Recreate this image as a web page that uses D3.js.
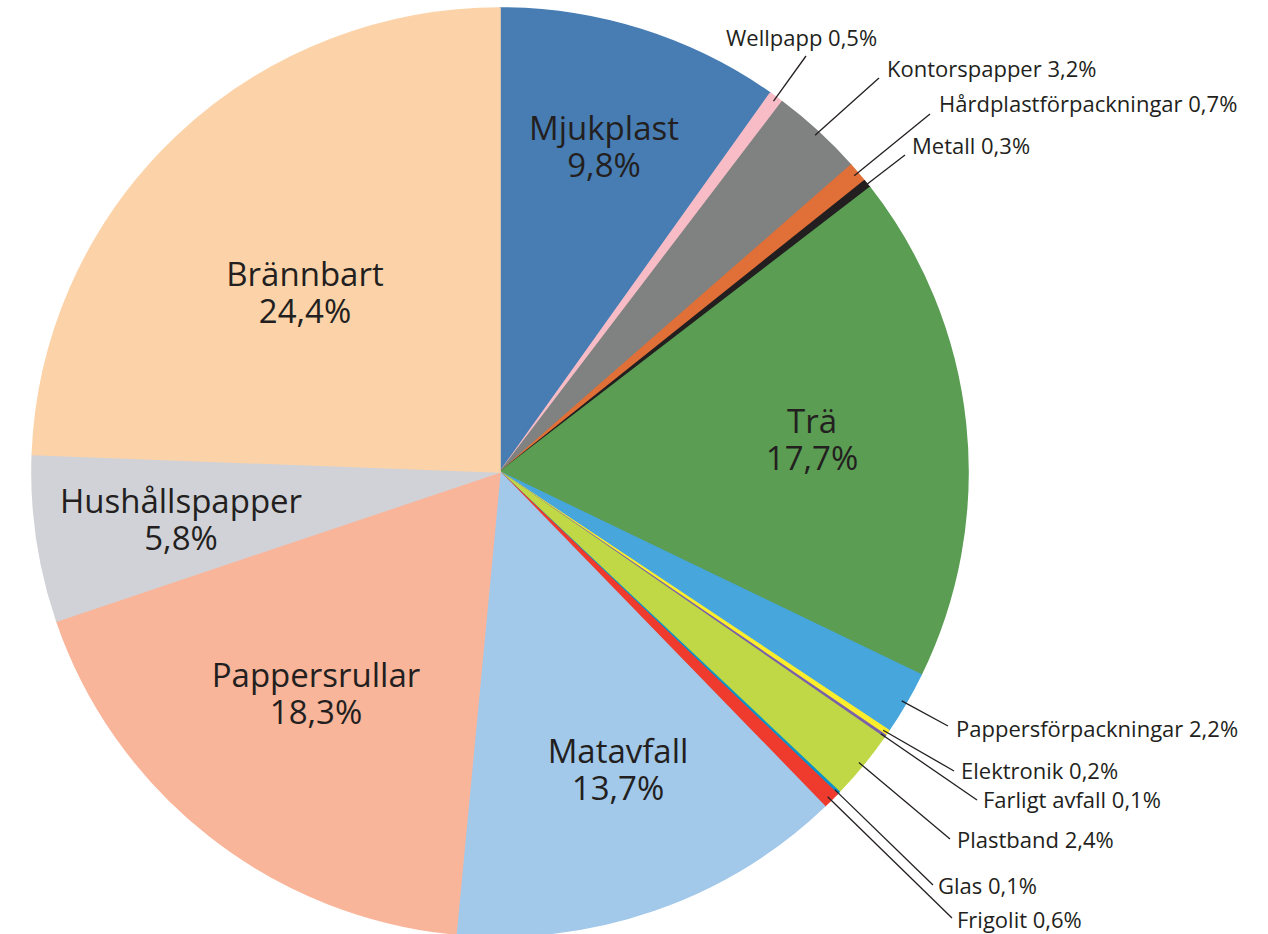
<!DOCTYPE html>
<html>
<head>
<meta charset="utf-8">
<script src="https://cdn.jsdelivr.net/npm/d3@7"></script>
<style>
    body { margin: 0; background: #fff; }
    svg { display: block; }
    text { font-family: "Open Sans", "Noto Sans", sans-serif; fill: #231f20; }
</style>
</head>
<body>
<div id="chart"></div>
<script>
// Fraktioner, medurs från kl. 12
const categories = [
    'Mjukplast', 'Wellpapp', 'Kontorspapper', 'Hårdplastförpackningar', 'Metall',
    'Trä', 'Pappersförpackningar', 'Elektronik', 'Farligt avfall', 'Plastband',
    'Glas', 'Frigolit', 'Matavfall', 'Pappersrullar', 'Hushållspapper', 'Brännbart'
];
const shares = [9.8, 0.5, 3.2, 0.7, 0.3, 17.7, 2.2, 0.2, 0.1, 2.4, 0.1, 0.6, 13.7, 18.3, 5.8, 24.4];
const colors = [
    '#477db3', '#f7bcc6', '#7f8281', '#e07038', '#231f20',
    '#5a9d53', '#47a6dc', '#fcee2c', '#7a62ab', '#c0d846',
    '#0a93c9', '#ee3b2e', '#a2c8ea', '#f9b59a', '#d1d2d7', '#fcd3a9'
];
// slices labelled inside (two lines), the rest get a leader line
const insideLabels = ['Mjukplast', 'Trä', 'Matavfall', 'Pappersrullar', 'Hushållspapper', 'Brännbart'];

const fmt = v => v.toFixed(1).replace('.', ',') + '%';

function createPieChart() {
    const width = 1268, height = 934;
    const cx = 500, cy = 472, rx = 468, ry = 464;

    const svg = d3.select('#chart').append('svg')
        .attr('width', width)
        .attr('height', height);

    const data = categories.map((name, i) => ({name, value: shares[i], color: colors[i]}));

    const pie = d3.pie()
        .value(d => d.value)
        .sort(null);

    const arcs = pie(data);

    const arc = d3.arc()
        .innerRadius(0)
        .outerRadius(rx);

    svg.append('g')
        .attr('transform', `translate(${cx},${cy}) scale(1,${ry / rx})`)
        .selectAll('path')
        .data(arcs)
        .join('path')
        .attr('d', arc)
        .attr('fill', d => d.data.color)
        .attr('stroke', d => d.data.color)
        .attr('stroke-width', 1.6)
        .attr('stroke-linejoin', 'round');

    // big labels inside the slices
    const inside = {
        'Mjukplast': [604, 140],
        'Trä': [812, 433],
        'Matavfall': [618, 763],
        'Pappersrullar': [316, 687],
        'Hushållspapper': [181, 513],
        'Brännbart': [305, 286]
    };

    const big = svg.append('g')
        .selectAll('text')
        .data(arcs.filter(d => insideLabels.includes(d.data.name)))
        .join('text')
        .attr('text-anchor', 'middle')
        .style('font-size', '33px')
        .attr('transform', d => `translate(${inside[d.data.name][0]},${inside[d.data.name][1]})`);

    big.append('tspan')
        .attr('x', 0)
        .attr('y', 0)
        .text(d => d.data.name);

    big.append('tspan')
        .attr('x', 0)
        .attr('y', 37)
        .text(d => fmt(d.data.value));

    // small labels: text x, baseline y, leader end x, leader end y
    const outside = {
        'Wellpapp': [726, 46, 806, 56],
        'Kontorspapper': [887, 77, 879, 78],
        'Hårdplastförpackningar': [939, 112, 930, 114],
        'Metall': [912, 154, 905, 155],
        'Pappersförpackningar': [956, 737, 948, 726],
        'Elektronik': [961, 779, 954, 771],
        'Farligt avfall': [983, 808, 977, 800],
        'Plastband': [957, 848, 950, 839],
        'Glas': [938, 894, 933, 885],
        'Frigolit': [957, 928, 952, 918]
    };

    const small = arcs.filter(d => !insideLabels.includes(d.data.name));

    const onRim = d => {
        const a = (d.startAngle + d.endAngle) / 2;
        return [cx + rx * 0.99 * Math.sin(a), cy - ry * 0.99 * Math.cos(a)];
    };

    svg.append('g')
        .selectAll('line')
        .data(small)
        .join('line')
        .attr('x1', d => onRim(d)[0])
        .attr('y1', d => onRim(d)[1])
        .attr('x2', d => outside[d.data.name][2])
        .attr('y2', d => outside[d.data.name][3])
        .attr('stroke', '#231f20')
        .attr('stroke-width', 1.3);

    svg.append('g')
        .selectAll('text')
        .data(small)
        .join('text')
        .attr('x', d => outside[d.data.name][0])
        .attr('y', d => outside[d.data.name][1])
        .style('font-size', '22px')
        .text(d => `${d.data.name} ${fmt(d.data.value)}`);
}

createPieChart();
</script>
</body>
</html>
